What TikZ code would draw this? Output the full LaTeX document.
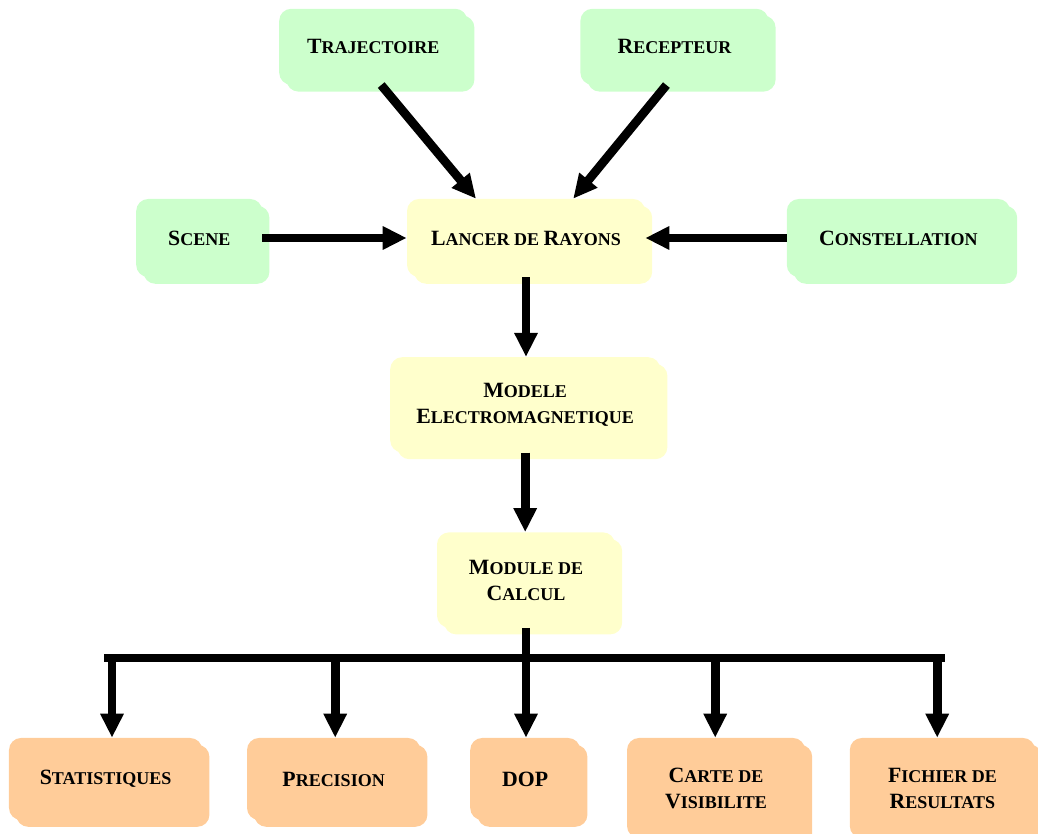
\documentclass[tikz,border=0pt]{standalone}
\usepackage{fontspec}
\setmainfont{Liberation Serif}
\usepackage{xcolor}
\usetikzlibrary{arrows.meta,shadows}
\definecolor{vert}{HTML}{CCFFCC}
\definecolor{jaune}{HTML}{FFFFCC}
\definecolor{saumon}{HTML}{FFCC99}
\newcommand{\pc}[2]{{\fontsize{15.5}{18.5}\selectfont #1}{\fontsize{12.8}{18.5}\selectfont #2}}
\tikzset{
  boite/.style={rounded corners=0.3cm, inner sep=0pt, align=center,
    font=\bfseries\fontsize{12.8}{18.5}\selectfont, fill=#1,
    general shadow={fill=#1, shadow xshift=0.18cm, shadow yshift=-0.17cm}},
  fleche/.style={line width=0.22cm, -{Triangle[length=0.6cm,width=0.55cm]}},
  barre/.style={line width=0.22cm}
}

\begin{document}
\begin{tikzpicture}
\useasboundingbox (0,0) rectangle (25.95,20.85);
\node[boite=vert, minimum width=4.7cm, minimum height=1.9cm] (traj) at (9.33,19.68) {\pc{T}{RAJECTOIRE}};
\node[boite=vert, minimum width=4.7cm, minimum height=1.9cm] (recep) at (16.86,19.68) {\pc{R}{ECEPTEUR}};
\node[boite=vert, minimum width=3.15cm, minimum height=1.95cm] (scene) at (4.98,14.9) {\pc{S}{CENE}};
\node[boite=jaune, minimum width=5.95cm, minimum height=1.95cm] (lancer) at (13.15,14.9) {\pc{L}{ANCER DE }\pc{R}{AYONS}};
\node[boite=vert, minimum width=5.58cm, minimum height=1.95cm] (const) at (22.46,14.9) {\pc{C}{ONSTELLATION}};
\node[boite=jaune, minimum width=6.75cm, minimum height=2.38cm] (modele) at (13.13,10.73) {\pc{M}{ODELE}\\\pc{E}{LECTROMAGNETIQUE}};
\node[boite=jaune, minimum width=4.45cm, minimum height=2.38cm] (module) at (13.15,6.35) {\pc{M}{ODULE DE}\\\pc{C}{ALCUL}};
\node[boite=saumon, minimum width=4.83cm, minimum height=2.05cm] (stat) at (2.64,1.375) {\pc{S}{TATISTIQUES}};
\node[boite=saumon, minimum width=4.33cm, minimum height=2.05cm] (prec) at (8.34,1.375) {\pc{P}{RECISION}};
\node[boite=saumon, minimum width=2.75cm, minimum height=2.05cm] (dop) at (13.13,1.375) {{\fontsize{15.5}{18.5}\selectfont DOP}};
\node[boite=saumon, minimum width=4.45cm, minimum height=2.5cm] (carte) at (17.9,1.15) {\pc{C}{ARTE DE}\\\pc{V}{ISIBILITE}};
\node[boite=saumon, minimum width=4.63cm, minimum height=2.5cm] (fich) at (23.56,1.15) {\pc{F}{ICHIER DE}\\\pc{R}{ESULTATS}};

\draw[fleche] ([xshift=0.2cm]traj.south) -- ([xshift=-1.25cm]lancer.north);
\draw[fleche] ([xshift=-0.2cm]recep.south) -- ([xshift=1.18cm]lancer.north);
\draw[fleche] (scene.east) -- (lancer.west);
\draw[fleche] (const.west) -- (lancer.east);
\draw[fleche] (lancer.south) -- (lancer.south |- modele.north);
\draw[fleche] (modele.south) -- (modele.south |- module.north);
\draw[fleche] (module.south) -- (module.south |- dop.north);

\coordinate (b1) at (2.8,4.4);
\coordinate (b2) at (8.38,4.4);
\coordinate (b4) at (17.88,4.4);
\coordinate (b5) at (23.43,4.4);
\draw[barre] ([xshift=-0.2cm]b1) -- ([xshift=0.2cm]b5);
\draw[fleche] (b1) -- (b1 |- stat.north);
\draw[fleche] (b2) -- (b2 |- prec.north);
\draw[fleche] (b4) -- (b4 |- carte.north);
\draw[fleche] (b5) -- (b5 |- fich.north);
\end{tikzpicture}
\end{document}
